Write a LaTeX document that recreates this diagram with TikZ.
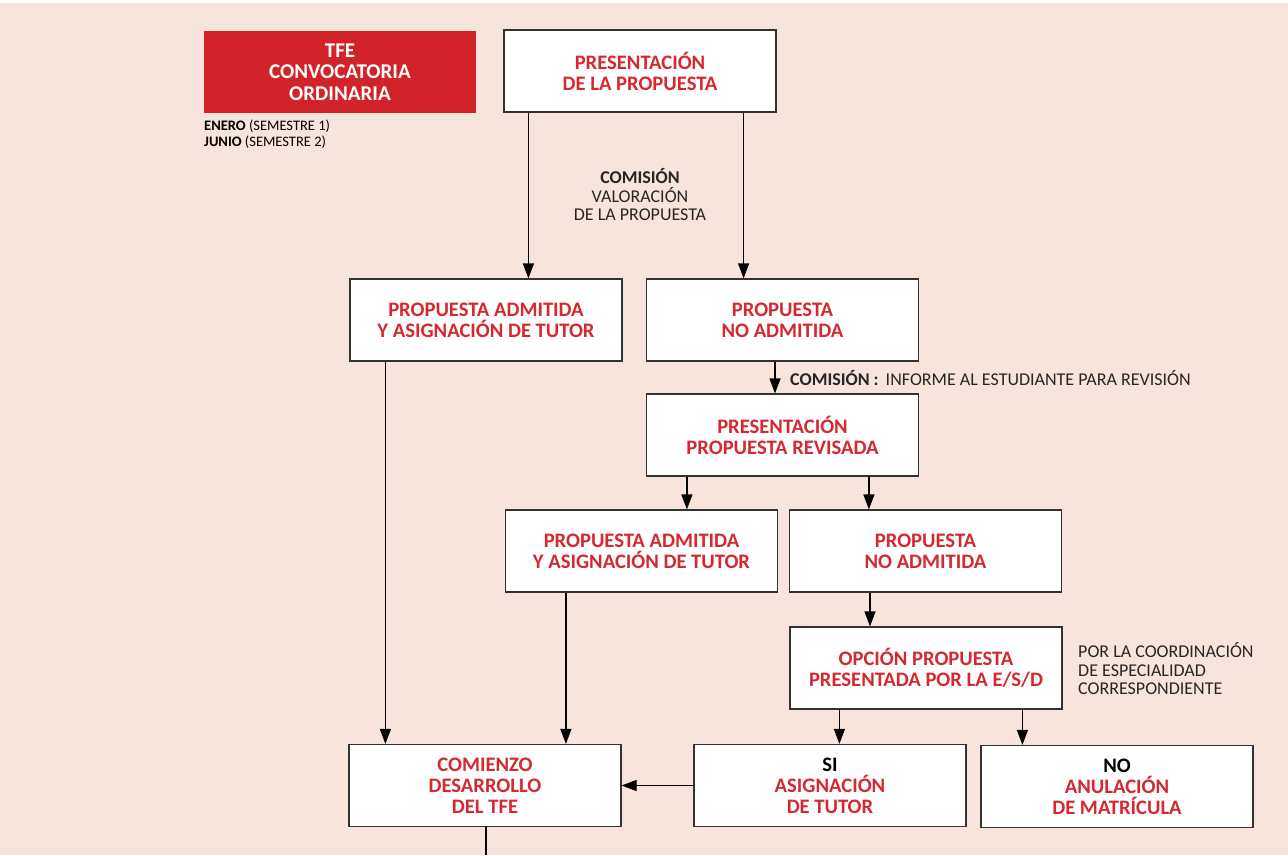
\documentclass[tikz,border=0pt]{standalone}
\usepackage{fontspec}
\setmainfont{Carlito}
\usetikzlibrary{arrows.meta}
\definecolor{bgpink}{RGB}{247,228,220}
\definecolor{tfered}{RGB}{210,35,42}
\definecolor{boxred}{RGB}{214,40,48}
\definecolor{lineg}{RGB}{50,50,50}

\begin{document}
\begin{tikzpicture}[x=1pt,y=-1pt,
  box/.style={draw=lineg, line width=1.2pt, fill=white, minimum width=272pt,
    minimum height=82pt, inner sep=0pt, align=center, text=boxred,
    font=\fontsize{20.6}{21}\selectfont\bfseries},
  note/.style={inner sep=0pt, text=black!85, font=\fontsize{18}{18.5}\selectfont},
  arr/.style={-{Triangle[length=15pt,width=11pt]}, line width=1.2pt, draw=black}]
\useasboundingbox (0,0) rectangle (1288,855);
\fill[white] (0,0) rectangle (1288,3);
\fill[bgpink] (0,3) rectangle (1288,855);

\node (tfe) at (340,72) [box, draw=none, fill=tfered, text=white,
  font=\fontsize{21}{21.5}\selectfont\bfseries] {TFE\\CONVOCATORIA\\ORDINARIA};
\node (fechas) at (204,120) [anchor=north west, inner sep=0pt, align=left, font=\fontsize{14.5}{16}\selectfont]
  {\textbf{ENERO} (SEMESTRE 1)\\\textbf{JUNIO} (SEMESTRE 2)};

\node (pres) at (640,71) [box] {PRESENTACIÓN\\DE LA PROPUESTA};
\node (valor) at (640,195) [note, align=center] {\textbf{COMISIÓN}\\VALORACIÓN\\DE LA PROPUESTA};
\node (adm1) at (486,320) [box] {PROPUESTA ADMITIDA\\Y ASIGNACIÓN DE TUTOR};
\node (noadm1) at (782.5,320) [box] {PROPUESTA\\NO ADMITIDA};
\node (inf) at (790,378) [note, anchor=west] {\textbf{COMISIÓN :}\, INFORME AL ESTUDIANTE PARA REVISIÓN};
\node (rev) at (782.5,435) [box] {PRESENTACIÓN\\PROPUESTA REVISADA};
\node (adm2) at (641.5,551) [box] {PROPUESTA ADMITIDA\\Y ASIGNACIÓN DE TUTOR};
\node (noadm2) at (925.5,551) [box] {PROPUESTA\\NO ADMITIDA};
\node (opc) at (926,668) [box] {OPCIÓN PROPUESTA\\PRESENTADA POR LA E/S/D};
\node (coord) at (1078,669) [note, anchor=west, align=left] {POR LA COORDINACIÓN\\DE ESPECIALIDAD\\CORRESPONDIENTE};
\node (si) at (830,785.5) [box] {\textcolor{black}{SI}\\ASIGNACIÓN\\DE TUTOR};
\node (no) at (1117,786.5) [box] {\textcolor{black}{NO}\\ANULACIÓN\\DE MATRÍCULA};
\node (com) at (485,785.5) [box] {COMIENZO\\DESARROLLO\\DEL TFE};
\coordinate (fin) at (486,855);

\draw[arr] (pres.south west) ++(25,0) coordinate (p1) -- (p1 |- adm1.north);
\draw[arr] (pres.south east) ++(-33,0) coordinate (p2) -- (p2 |- noadm1.north);
\draw[arr] (noadm1.south) ++(-7.5,0) coordinate (p3) -- (p3 |- rev.north);
\draw[arr] (rev.south west) ++(41,0) coordinate (p4) -- (p4 |- adm2.north);
\draw[arr] (rev.south west) ++(223,0) coordinate (p5) -- (p5 |- noadm2.north);
\draw[arr] (noadm2.south) ++(-55.5,0) coordinate (p6) -- (p6 |- opc.north);
\draw[arr] (opc.south west) ++(50,0) coordinate (p7) -- (p7 |- si.north);
\draw[arr] (opc.south west) ++(233,0) coordinate (p8) -- (p8 |- no.north);
\draw[arr] (adm1.south west) ++(36,0) coordinate (p9) -- (p9 |- com.north);
\draw[arr] (adm2.south west) ++(61,0) coordinate (p10) -- (p10 |- com.north);
\draw[arr] (si.west) -- (com.east);
\draw[line width=1.2pt] (com.south -| fin) -- (fin);
\end{tikzpicture}
\end{document}
